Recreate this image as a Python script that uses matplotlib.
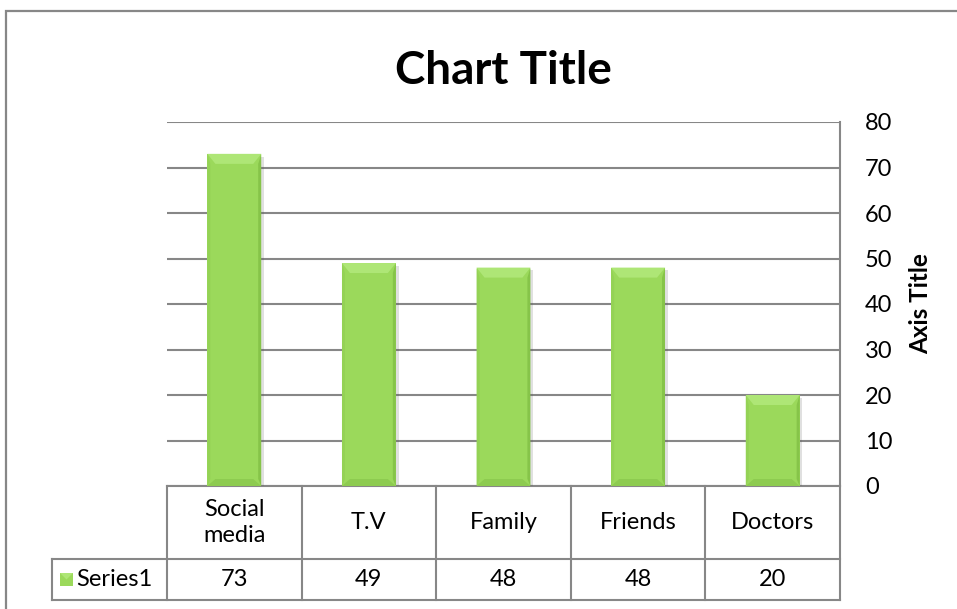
import numpy as np
import matplotlib.pyplot as plt
import matplotlib.patheffects as pe
from matplotlib.patches import Polygon, Rectangle
from matplotlib.lines import Line2D
import matplotlib.transforms as mtransforms

plt.rcParams['font.family'] = ['Lato', 'DejaVu Sans']

# data
categories = ['Social\nmedia', 'T.V', 'Family', 'Friends', 'Doctors']
values = [73, 49, 48, 48, 20]
series_name = 'Series1'
yticks = [0, 10, 20, 30, 40, 50, 60, 70, 80]

grey = '#878787'
face = '#9BD95B'
top_facet = '#AEE676'
left_facet = '#94D255'
right_facet = '#86C449'
bottom_facet = '#8DCB50'

fig = plt.figure(figsize=(9.57, 6.09), dpi=100)
W, H = 957, 609

# chart frame (cut off at right / bottom)
frame = Rectangle((5.5 / W, -0.1), 1.1, (H - 11) / H + 0.1, transform=fig.transFigure,
                  fill=False, edgecolor=grey, linewidth=1.6)
fig.patches.append(frame)

ax = fig.add_axes([167 / W, (H - 486) / H, 673 / W, 364 / H])
x = np.arange(len(values))
bar_w = 0.4
bars = ax.bar(x, values, width=bar_w, color=face, edgecolor='none', zorder=3,
              path_effects=[pe.SimplePatchShadow(offset=(2, -2), alpha=0.18, shadow_rgbFace='#555555'),
                            pe.Normal()])

ax.set_xlim(-0.5, len(values) - 0.5)
ax.set_ylim(0, 80)
ax.set_yticks(yticks)
ax.yaxis.tick_right()
ax.tick_params(axis='y', length=0, pad=18, labelsize=17)
ax.set_xticks([])
for s in ['left', 'top', 'bottom']:
    ax.spines[s].set_visible(False)
ax.spines['right'].set_color(grey)
ax.spines['right'].set_linewidth(1.5)
ax.grid(axis='y', color=grey, linewidth=1.5, zorder=0)
ax.set_axisbelow(True)
ax.yaxis.set_label_position('right')
ax.set_ylabel('Axis Title', fontsize=17.5, fontweight='bold', labelpad=12)

# angle bevel on each bar (sizes in pixels converted to data units)
px_x = (len(values)) / 673
px_y = 80 / 364
bx = 8 * px_x
sx = 3 * px_x
by_top = 10 * px_y
by_bot = 7 * px_y
for b in bars:
    x0, w, h = b.get_x(), b.get_width(), b.get_height()
    x1 = x0 + w
    ax.add_patch(Polygon([(x0, 0), (x0 + sx, by_bot), (x0 + sx, h - by_top), (x0, h)],
                         closed=True, color=left_facet, lw=0, zorder=4))
    ax.add_patch(Polygon([(x1, 0), (x1 - sx, by_bot), (x1 - sx, h - by_top), (x1, h)],
                         closed=True, color=right_facet, lw=0, zorder=4))
    ax.add_patch(Polygon([(x0, 0), (x1, 0), (x1 - bx, by_bot), (x0 + bx, by_bot)],
                         closed=True, color=bottom_facet, lw=0, zorder=4))
    ax.add_patch(Polygon([(x0, h), (x1, h), (x1 - bx, h - by_top), (x0 + bx, h - by_top)],
                         closed=True, color=top_facet, lw=0, zorder=4))

# data table under the plot
tr = mtransforms.blended_transform_factory(ax.transData, ax.transAxes)
r1 = -73 / 364
r2 = -114 / 364
legend_left = -0.5 - 115 / 134.6
n = len(values)
lw = 1.5
lines = [
    ((-0.5, n - 0.5), (0, 0)),
    ((legend_left, n - 0.5), (r1, r1)),
    ((legend_left, n - 0.5), (r2, r2)),
    ((legend_left, legend_left), (r1, r2)),
]
for i in range(n + 1):
    lines.append(((i - 0.5, i - 0.5), (0, r2)))
for xs, ys in lines:
    ax.add_line(Line2D(xs, ys, transform=tr, color=grey, linewidth=lw, clip_on=False))

for i, (c, v) in enumerate(zip(categories, values)):
    ax.text(i, r1 / 2, c, transform=tr, ha='center', va='center', fontsize=17,
            linespacing=1.3, clip_on=False)
    ax.text(i, (r1 + r2) / 2, str(v), transform=tr, ha='center', va='center',
            fontsize=17, clip_on=False)

# legend key inside the table
key_x = legend_left + 8 / 134.6
key_w = 13 / 134.6
key_h = 13 / 364
key_y = (r1 + r2) / 2 - key_h / 2
ax.add_patch(Rectangle((key_x, key_y), key_w, key_h, transform=tr, color=face,
                       clip_on=False, lw=0))
ax.add_patch(Polygon([(key_x, key_y + key_h), (key_x + key_w, key_y + key_h),
                      (key_x + key_w / 2, key_y + key_h / 2)], transform=tr,
                     color=top_facet, clip_on=False, lw=0))
ax.text(key_x + key_w + 3 / 134.6, (r1 + r2) / 2, series_name, transform=tr,
        ha='left', va='center', fontsize=17, clip_on=False)

fig.text(503 / W, 1 - 71 / H, 'Chart Title', ha='center', va='center',
         fontsize=33, fontweight='bold')

fig.savefig('out.png', dpi=100)
